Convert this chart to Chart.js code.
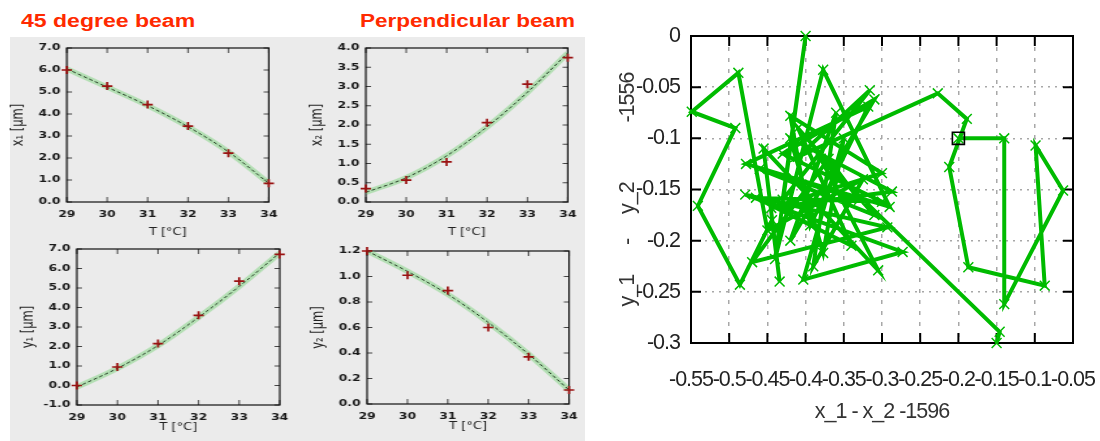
<!DOCTYPE html>
<html lang="en">
<head>
    <meta charset="UTF-8">
    <title>Beam position vs temperature</title>
    <script src="https://cdn.jsdelivr.net/npm/chart.js"></script>
    <style>
        body { margin: 0; width: 1100px; height: 441px; background: #fff; position: relative; overflow: hidden; }
        .panel { position: absolute; left: 10px; top: 37px; width: 575px; height: 404px; background: #ebebeb; }
        .title { position: absolute; top: 11px; line-height: 18px; color: #ff2a00; font: bold 18px 'Liberation Sans', Arial, sans-serif;
                 transform: scaleX(1.28); transform-origin: 0 0; white-space: nowrap; }
        .small { position: absolute; transform: scaleX(1.3); transform-origin: 0 0; }
        .big { position: absolute; left: 600px; top: 20px; width: 500px; height: 421px; }
    </style>
</head>
<body>
    <div class="panel"></div>
    <div class="title" style="left:21px">45 degree beam</div>
    <div class="title" style="left:360px; transform:scaleX(1.25)">Perpendicular beam</div>
    <div class="small" id="tl"><canvas></canvas></div>
    <div class="small" id="tr"><canvas></canvas></div>
    <div class="small" id="bl"><canvas></canvas></div>
    <div class="small" id="br"><canvas></canvas></div>
    <div class="big"><canvas id="drift"></canvas></div>

    <script>
        // temperature sweep, both beams
        const temps = [29, 30, 31, 32, 33, 34];

        const x1Meas = [6.0, 5.27, 4.43, 3.45, 2.22, 0.85];
        const x1Fit  = [6.05, 5.22, 4.38, 3.42, 2.28, 0.85];
        const y1Meas = [0.0, 0.95, 2.15, 3.6, 5.35, 6.72];
        const y1Fit  = [-0.08, 0.88, 2.05, 3.5, 5.08, 6.8];

        const x2Meas = [0.35, 0.57, 1.04, 2.06, 3.06, 3.75];
        const x2Fit  = [0.25, 0.63, 1.2, 1.95, 2.85, 3.87];
        const y2Meas = [1.2, 1.01, 0.89, 0.6, 0.37, 0.11];
        const y2Fit  = [1.2, 1.04, 0.86, 0.64, 0.39, 0.11];

        const x1Ticks = [0, 1, 2, 3, 4, 5, 6, 7];
        const y1Ticks = [-1, 0, 1, 2, 3, 4, 5, 6, 7];
        const x2Ticks = [0, 0.5, 1, 1.5, 2, 2.5, 3, 3.5, 4];
        const y2Ticks = [0, 0.2, 0.4, 0.6, 0.8, 1.0, 1.2];

        // relative drift trajectory
        const dx = [-0.2, -0.14, -0.14, -0.063, -0.099, -0.087, -0.187, -0.212, -0.189, -0.227,
                    -0.41, -0.316, -0.43, -0.4, -0.44, -0.377, -0.29, -0.478, -0.318, -0.394,
                    -0.42, -0.3, -0.445, -0.287, -0.42, -0.377, -0.35, -0.403, -0.273, -0.479,
                    -0.293, -0.47, -0.37, -0.33, -0.46, -0.31, -0.41, -0.34, -0.465, -0.30,
                    -0.43, -0.31, -0.42, -0.36, -0.39, -0.325, -0.45, -0.488, -0.549, -0.492,
                    -0.541, -0.486, -0.444, -0.434, -0.455, -0.305, -0.38, -0.146, -0.15];
        const dy = [-0.1, -0.1, -0.262, -0.151, -0.107, -0.244, -0.226, -0.128, -0.081, -0.056,
                    -0.118, -0.053, -0.16, 0.0, -0.218, -0.033, -0.167, -0.125, -0.069, -0.185,
                    -0.078, -0.134, -0.168, -0.152, -0.1, -0.212, -0.1, -0.238, -0.211, -0.155,
                    -0.187, -0.221, -0.12, -0.16, -0.13, -0.175, -0.09, -0.205, -0.158, -0.162,
                    -0.115, -0.062, -0.2, -0.075, -0.225, -0.14, -0.19, -0.036, -0.074, -0.09,
                    -0.166, -0.243, -0.18, -0.24, -0.11, -0.229, -0.12, -0.289, -0.3];
        const startX = [-0.2];
        const startY = [-0.1];
        const dxTicks = [-0.55, -0.5, -0.45, -0.4, -0.35, -0.3, -0.25, -0.2, -0.15, -0.1, -0.05];
        const dyTicks = [0, -0.05, -0.1, -0.15, -0.2, -0.25, -0.3];

        // frame with inward tick marks on all four sides
        const frame = {
            id: 'frame',
            beforeDatasetsDraw(chart, args, o) {
                const { ctx, chartArea: a } = chart;
                const sx = chart.scales.x, sy = chart.scales.y;
                ctx.save();
                ctx.lineWidth = o.tickWidth;
                ctx.strokeStyle = o.tickColor;
                ctx.beginPath();
                sx.ticks.forEach(t => {
                    const p = sx.getPixelForValue(t.value);
                    ctx.moveTo(p, a.bottom); ctx.lineTo(p, a.bottom - o.len);
                    ctx.moveTo(p, a.top); ctx.lineTo(p, a.top + o.len);
                });
                sy.ticks.forEach(t => {
                    const p = sy.getPixelForValue(t.value);
                    ctx.moveTo(a.left, p); ctx.lineTo(a.left + o.lenY, p);
                    ctx.moveTo(a.right, p); ctx.lineTo(a.right - o.lenY, p);
                });
                ctx.stroke();
                ctx.lineWidth = o.width;
                ctx.strokeStyle = o.color;
                ctx.strokeRect(a.left, a.top, a.right - a.left, a.bottom - a.top);
                ctx.restore();
            }
        };

        // gnuplot text is narrow; tighten the glyphs a little
        const tightText = {
            id: 'tightText',
            beforeUpdate(chart) { chart.ctx.letterSpacing = '-1px'; },
            beforeDraw(chart) { chart.ctx.letterSpacing = '-1px'; }
        };

        const pts = (xs, ys) => xs.map((x, i) => ({ x: x, y: ys[i] }));
        const smallFont = 'DejaVu Sans, sans-serif';

        function smallChart(id, box, meas, fit, yTicks, yLabel, titlePad) {
            const s = 1.3;
            const wrap = document.getElementById(id);
            wrap.style.left = (box.l - 60) + 'px';
            wrap.style.top = (box.t - 12) + 'px';
            wrap.style.width = (46 + (box.r - box.l) / s + 16) + 'px';
            wrap.style.height = (12 + box.b - box.t + 36) + 'px';

            new Chart(wrap.querySelector('canvas'), {
                type: 'scatter',
                data: {
                    datasets: [{
                        data: pts(temps, meas),
                        pointStyle: 'cross',
                        pointRadius: 4,
                        pointBorderColor: '#9a1212',
                        pointBorderWidth: 1.7,
                        clip: false
                    }, {
                        data: pts(temps, fit),
                        showLine: true,
                        borderColor: '#243f24',
                        borderWidth: 1,
                        borderDash: [3, 2],
                        pointRadius: 0,
                        cubicInterpolationMode: 'monotone'
                    }, {
                        data: pts(temps, fit),
                        showLine: true,
                        borderColor: 'rgba(125, 212, 125, 0.5)',
                        borderWidth: 5,
                        pointRadius: 0,
                        cubicInterpolationMode: 'monotone'
                    }]
                },
                options: {
                    responsive: true,
                    maintainAspectRatio: false,
                    animation: false,
                    events: [],
                    layout: { padding: { top: 12, right: 16, left: 0, bottom: 0 } },
                    plugins: {
                        legend: { display: false },
                        tooltip: { enabled: false },
                        frame: { color: '#111', width: 1.2, tickColor: '#444', tickWidth: 1, len: 5, lenY: 4 }
                    },
                    scales: {
                        x: {
                            type: 'linear', min: 29, max: 34,
                            afterBuildTicks: sc => { sc.ticks = temps.map(v => ({ value: v })); },
                            afterFit: sc => { sc.height = 36; },
                            grid: { display: false, drawTicks: false },
                            border: { display: false },
                            ticks: { padding: 7, color: '#1a1a1a', font: { family: smallFont, size: 9.5, weight: 'bold' } },
                            title: { display: true, text: 'T [°C]', color: '#222',
                                     font: { family: smallFont, size: 10 }, padding: { top: 0, bottom: titlePad } }
                        },
                        y: {
                            min: yTicks[0], max: yTicks[yTicks.length - 1],
                            afterBuildTicks: sc => { sc.ticks = yTicks.map(v => ({ value: v })); },
                            afterFit: sc => { sc.width = 46; },
                            grid: { display: false, drawTicks: false },
                            border: { display: false },
                            ticks: { padding: 5, color: '#1a1a1a', callback: v => v.toFixed(1),
                                     font: { family: smallFont, size: 9.5, weight: 'bold' } },
                            title: { display: true, text: yLabel, color: '#222',
                                     font: { family: smallFont, size: 11.5 }, padding: { top: 2, bottom: 0 } }
                        }
                    }
                },
                plugins: [frame]
            });
        }

        smallChart('tl', { l: 67, r: 269, t: 48, b: 202 }, x1Meas, x1Fit, x1Ticks, 'x₁ [µm]', 0);
        smallChart('tr', { l: 366, r: 568, t: 48, b: 202 }, x2Meas, x2Fit, x2Ticks, 'x₂ [µm]', 0);
        smallChart('bl', { l: 77, r: 280, t: 249, b: 405 }, y1Meas, y1Fit, y1Ticks, 'y₁ [µm]', 8);
        smallChart('br', { l: 367, r: 568, t: 251, b: 404 }, y2Meas, y2Fit, y2Ticks, 'y₂ [µm]', 8);

        const bigFont = "'Liberation Sans', Arial, sans-serif";
        const fmt = v => String(Math.round(v * 100) / 100);

        new Chart(document.getElementById('drift'), {
            type: 'scatter',
            data: {
                datasets: [{
                    data: pts(startX, startY),
                    pointStyle: 'rect',
                    pointRadius: 8.5,
                    pointBorderColor: '#000',
                    pointBackgroundColor: 'rgba(0,0,0,0)',
                    pointBorderWidth: 1.6
                }, {
                    data: pts(dx, dy),
                    showLine: true,
                    borderColor: '#00bb00',
                    borderWidth: 4,
                    pointStyle: 'crossRot',
                    pointRadius: 7,
                    pointBorderColor: '#00bb00',
                    pointBorderWidth: 1.5,
                    clip: false
                }]
            },
            options: {
                responsive: true,
                maintainAspectRatio: false,
                animation: false,
                events: [],
                layout: { padding: { top: 16, right: 27, left: 0, bottom: 0 } },
                plugins: {
                    legend: { display: false },
                    tooltip: { enabled: false },
                    frame: { color: '#000', width: 2, tickColor: '#000', tickWidth: 2, len: 10, lenY: 10 }
                },
                scales: {
                    x: {
                        type: 'linear', min: -0.55, max: -0.05,
                        afterBuildTicks: sc => { sc.ticks = dxTicks.map(v => ({ value: v })); },
                        afterFit: sc => { sc.height = 98; },
                        grid: { color: '#a8a8a8', lineWidth: 1.5, drawTicks: true, tickLength: 21, tickColor: 'rgba(0,0,0,0)' },
                        border: { display: false, dash: [4, 7] },
                        ticks: { padding: 3, color: '#222', autoSkip: false, maxRotation: 0, minRotation: 0,
                                 callback: fmt, font: { family: bigFont, size: 21.5 } },
                        title: { display: true, text: 'x_1 - x_2 -1596', color: '#333',
                                 font: { family: bigFont, size: 21.5 }, padding: { top: 0, bottom: 16 } }
                    },
                    y: {
                        min: -0.3, max: 0,
                        afterBuildTicks: sc => { sc.ticks = dyTicks.map(v => ({ value: v })); },
                        afterFit: sc => { sc.width = 91; },
                        grid: { color: '#a8a8a8', lineWidth: 1.5, drawTicks: true, tickLength: 11, tickColor: 'rgba(0,0,0,0)' },
                        border: { display: false, dash: [2, 5] },
                        ticks: { padding: 0, color: '#222', callback: fmt, font: { family: bigFont, size: 21.5 } },
                        title: { display: true, text: 'y_1      -     y_2            -1556', color: '#333',
                                 font: { family: bigFont, size: 21.5 }, padding: { top: 15, bottom: 0 } }
                    }
                }
            },
            plugins: [frame, tightText]
        });
    </script>
</body>
</html>
